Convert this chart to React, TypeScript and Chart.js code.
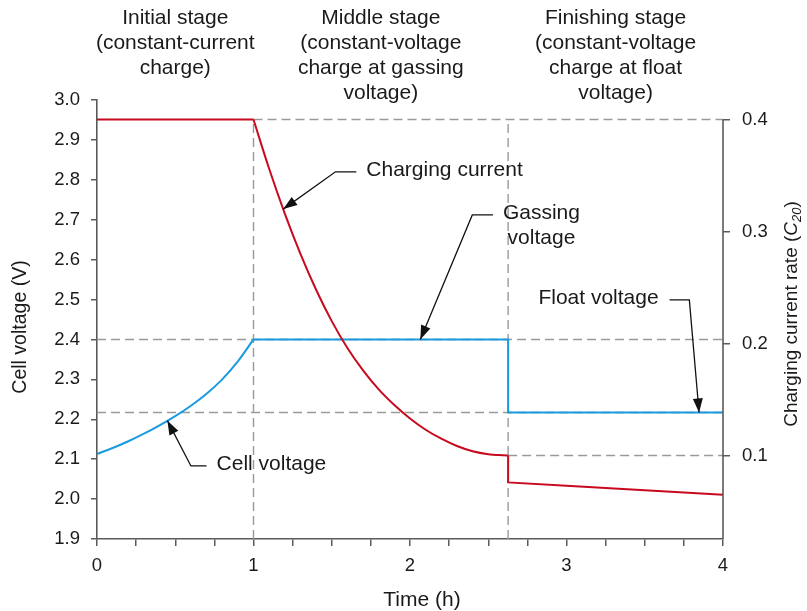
import React, { useEffect, useRef } from 'react';
import { Chart, registerables } from 'chart.js';

Chart.register(...registerables);

// ---------------- data ----------------
const STAGE_BOUNDS = [0, 1, 2.627, 4];
const STAGE_TITLES = [
  ['Initial stage', '(constant-current', 'charge)'],
  ['Middle stage', '(constant-voltage', 'charge at gassing', 'voltage)'],
  ['Finishing stage', '(constant-voltage', 'charge at float', 'voltage)'],
];

// cell voltage (V), left axis
const VOLTAGE_CC_TIME = [0, 0.1, 0.2, 0.3, 0.4, 0.5, 0.6, 0.7, 0.8, 0.9, 1.0];
const VOLTAGE_CC = [2.113, 2.128, 2.145, 2.164, 2.185, 2.208, 2.234, 2.264, 2.3, 2.345, 2.4];
const VOLTAGE_CV_TIME = [1.0, 2.627, 2.627, 4];
const VOLTAGE_CV = [2.4, 2.4, 2.217, 2.217];

// charging current rate (C20), right axis
const CURRENT_CC_TIME = [0, 1];
const CURRENT_CC = [0.4, 0.4];
const CURRENT_GAS_TIME = [1, 1.1, 1.2, 1.3, 1.4, 1.5, 1.6, 1.7, 1.8, 1.9, 2.0, 2.1, 2.2, 2.3, 2.4, 2.5, 2.6, 2.627];
const CURRENT_GAS = [0.4, 0.356, 0.316, 0.28, 0.248, 0.22, 0.196, 0.176, 0.159, 0.145, 0.133, 0.123, 0.115, 0.1085, 0.1038, 0.1012, 0.1002, 0.1];
const CURRENT_FLOAT_TIME = [2.627, 2.627, 3.0, 3.5, 4.0];
const CURRENT_FLOAT = [0.1, 0.076, 0.073, 0.069, 0.065];

const GASSING_VOLTAGE = 2.4;
const FLOAT_VOLTAGE = 2.217;
const START_RATE = 0.4;
const END_RATE = 0.1;

const X_TICKS = [0, 0.25, 0.5, 0.75, 1, 1.25, 1.5, 1.75, 2, 2.25, 2.5, 2.75, 3, 3.25, 3.5, 3.75, 4];
const X_MAJOR = [0, 1, 2, 3, 4];
const X_LABELS = ['0', '1', '2', '3', '4'];
const LEFT_TICKS = [1.9, 2.0, 2.1, 2.2, 2.3, 2.4, 2.5, 2.6, 2.7, 2.8, 2.9, 3.0];
const LEFT_LABELS = ['1.9', '2.0', '2.1', '2.2', '2.3', '2.4', '2.5', '2.6', '2.7', '2.8', '2.9', '3.0'];
const RIGHT_TICKS = [0.1, 0.2, 0.3, 0.4];
const RIGHT_LABELS = ['0.1', '0.2', '0.3', '0.4'];

// ---------------- styling ----------------
const FONT = '"Liberation Sans", Arial, sans-serif';
const RED = '#C80A1E';
const BLUE = '#1A9BE0';
const AXIS = '#5a5a5a';
const DASH = '#9a9a9a';
const TEXT = '#1a1a1a';

const LEFT_MIN = 1.9;
const LEFT_MAX = 3.0;
const RIGHT_MIN = 0.02545;
const RIGHT_MAX = 0.41741;

type Ann = {
  lines: string[];
  series: 'current' | 'voltage';
  tipTime: number;
  elbow: [number, number];
  end: [number, number];
  side: 'right' | 'left';
};

const ANNOTATIONS: Ann[] = [
  { lines: ['Charging current'], series: 'current', tipTime: 1.19, elbow: [1.524, 2.82], end: [1.657, 2.82], side: 'right' },
  { lines: ['Gassing', 'voltage'], series: 'voltage', tipTime: 2.066, elbow: [2.398, 2.712], end: [2.53, 2.712], side: 'right' },
  { lines: ['Float voltage'], series: 'voltage', tipTime: 3.847, elbow: [3.785, 2.499], end: [3.659, 2.499], side: 'left' },
  { lines: ['Cell voltage'], series: 'voltage', tipTime: 0.45, elbow: [0.6, 2.083], end: [0.7, 2.083], side: 'right' },
];

function interp(xs: number[], ys: number[], t: number) {
  for (let i = 0; i < xs.length - 1; i++) {
    if (xs[i + 1] > xs[i] && t >= xs[i] && t <= xs[i + 1]) {
      const f = (t - xs[i]) / (xs[i + 1] - xs[i]);
      return ys[i] + f * (ys[i + 1] - ys[i]);
    }
  }
  return ys[ys.length - 1];
}

function arrowHead(ctx: CanvasRenderingContext2D, fx: number, fy: number, tx: number, ty: number) {
  const a = Math.atan2(ty - fy, tx - fx);
  const L = 14;
  const W = 5;
  const c = Math.cos(a);
  const s = Math.sin(a);
  ctx.beginPath();
  ctx.moveTo(tx, ty);
  ctx.lineTo(tx - L * c + W * s, ty - L * s - W * c);
  ctx.lineTo(tx - L * c - W * s, ty - L * s + W * c);
  ctx.closePath();
  ctx.fill();
}

const ALL_CURRENT_TIME = [...CURRENT_CC_TIME, ...CURRENT_GAS_TIME, ...CURRENT_FLOAT_TIME];
const ALL_CURRENT = [...CURRENT_CC, ...CURRENT_GAS, ...CURRENT_FLOAT];
const ALL_VOLTAGE_TIME = [...VOLTAGE_CC_TIME, ...VOLTAGE_CV_TIME];
const ALL_VOLTAGE = [...VOLTAGE_CC, ...VOLTAGE_CV];

const overlayPlugin = {
  id: 'overlay',
  afterDraw(chart: any) {
    const { ctx, chartArea: ca, scales } = chart;
    const x = scales.x;
    const yl = scales.y;
    const yr = scales.y1;
    ctx.save();

    // right axis line (from top rate tick down to the x axis)
    ctx.strokeStyle = AXIS;
    ctx.lineWidth = 1.6;
    ctx.beginPath();
    ctx.moveTo(ca.right, yr.getPixelForValue(RIGHT_TICKS[RIGHT_TICKS.length - 1]));
    ctx.lineTo(ca.right, ca.bottom);
    ctx.stroke();

    ctx.fillStyle = TEXT;

    // stage titles
    ctx.font = `21px ${FONT}`;
    ctx.textAlign = 'center';
    ctx.textBaseline = 'middle';
    STAGE_TITLES.forEach((lines, i) => {
      const cx = (x.getPixelForValue(STAGE_BOUNDS[i]) + x.getPixelForValue(STAGE_BOUNDS[i + 1])) / 2;
      lines.forEach((ln, j) => ctx.fillText(ln, cx, 18 + 25 * j));
    });

    // x title
    ctx.textBaseline = 'alphabetic';
    ctx.fillText('Time (h)', (ca.left + ca.right) / 2 + 12, 606);

    // left title
    ctx.save();
    ctx.translate(26, 327);
    ctx.rotate(-Math.PI / 2);
    ctx.font = `19.5px ${FONT}`;
    ctx.textAlign = 'center';
    ctx.fillText('Cell voltage (V)', 0, 0);
    ctx.restore();

    // right title with italic C and subscript 20
    ctx.save();
    ctx.translate(797, 314);
    ctx.rotate(-Math.PI / 2);
    ctx.textAlign = 'left';
    const parts = [
      { t: 'Charging current rate (', f: `19px ${FONT}`, dy: 0 },
      { t: 'C', f: `italic 19px ${FONT}`, dy: 0 },
      { t: '20', f: `italic 13px ${FONT}`, dy: 4 },
      { t: ')', f: `19px ${FONT}`, dy: 0 },
    ];
    let total = 0;
    parts.forEach((p) => {
      ctx.font = p.f;
      total += ctx.measureText(p.t).width;
    });
    let px = -total / 2;
    parts.forEach((p) => {
      ctx.font = p.f;
      ctx.fillText(p.t, px, p.dy);
      px += ctx.measureText(p.t).width;
    });
    ctx.restore();

    // annotations
    ctx.font = `21px ${FONT}`;
    ctx.lineWidth = 1.3;
    ANNOTATIONS.forEach((a) => {
      const tipX = x.getPixelForValue(a.tipTime);
      const tipY =
        a.series === 'current'
          ? yr.getPixelForValue(interp(ALL_CURRENT_TIME, ALL_CURRENT, a.tipTime))
          : yl.getPixelForValue(interp(ALL_VOLTAGE_TIME, ALL_VOLTAGE, a.tipTime));
      const ex = x.getPixelForValue(a.elbow[0]);
      const ey = yl.getPixelForValue(a.elbow[1]);
      const lx = x.getPixelForValue(a.end[0]);
      const ly = yl.getPixelForValue(a.end[1]);
      ctx.strokeStyle = '#111';
      ctx.fillStyle = '#111';
      ctx.beginPath();
      ctx.moveTo(lx, ly);
      ctx.lineTo(ex, ey);
      ctx.lineTo(tipX, tipY);
      ctx.stroke();
      arrowHead(ctx, ex, ey, tipX, tipY);

      ctx.fillStyle = TEXT;
      ctx.textBaseline = 'middle';
      if (a.side === 'right') {
        const widths = a.lines.map((l) => ctx.measureText(l).width);
        const maxW = Math.max(...widths);
        const cx = lx + 10 + maxW / 2;
        ctx.textAlign = 'center';
        a.lines.forEach((l, j) => ctx.fillText(l, cx, ly - 1.5 + 25 * j));
      } else {
        ctx.textAlign = 'right';
        a.lines.forEach((l, j) => ctx.fillText(l, lx - 11, ly - 2 + 25 * j));
      }
    });

    ctx.restore();
  },
};

export default function App() {
  const ref = useRef<HTMLCanvasElement>(null);

  useEffect(() => {
    const canvas = ref.current;
    if (!canvas) return;
    const pts = (xs: number[], ys: number[]) => xs.map((v, i) => ({ x: v, y: ys[i] }));
    const solid = (data: { x: number; y: number }[], axis: string, color: string, smooth: boolean) => ({
      data,
      yAxisID: axis,
      borderColor: color,
      borderWidth: 2,
      pointRadius: 0,
      tension: 0,
      cubicInterpolationMode: smooth ? 'monotone' : 'default',
      fill: false,
    });
    const dashed = (data: { x: number; y: number }[], axis: string) => ({
      data,
      yAxisID: axis,
      borderColor: DASH,
      borderWidth: 1.4,
      borderDash: [9, 5],
      pointRadius: 0,
      tension: 0,
      fill: false,
    });
    const s1 = STAGE_BOUNDS[1];
    const s2 = STAGE_BOUNDS[2];
    const tEnd = STAGE_BOUNDS[3];

    const chart = new Chart(canvas, {
      type: 'line',
      data: {
        datasets: [
          solid(pts(CURRENT_CC_TIME, CURRENT_CC), 'y1', RED, false),
          solid(pts(CURRENT_GAS_TIME, CURRENT_GAS), 'y1', RED, true),
          solid(pts(CURRENT_FLOAT_TIME, CURRENT_FLOAT), 'y1', RED, false),
          solid(pts(VOLTAGE_CC_TIME, VOLTAGE_CC), 'y', BLUE, true),
          solid(pts(VOLTAGE_CV_TIME, VOLTAGE_CV), 'y', BLUE, false),
          dashed([{ x: s1, y: RIGHT_MIN }, { x: s1, y: START_RATE }], 'y1'),
          dashed([{ x: s2, y: RIGHT_MIN }, { x: s2, y: START_RATE }], 'y1'),
          dashed([{ x: s1, y: START_RATE }, { x: tEnd, y: START_RATE }], 'y1'),
          dashed([{ x: s2, y: END_RATE }, { x: tEnd, y: END_RATE }], 'y1'),
          dashed([{ x: 0, y: GASSING_VOLTAGE }, { x: tEnd, y: GASSING_VOLTAGE }], 'y'),
          dashed([{ x: 0, y: FLOAT_VOLTAGE }, { x: tEnd, y: FLOAT_VOLTAGE }], 'y'),
        ] as any,
      },
      options: {
        responsive: false,
        animation: false,
        layout: { padding: { top: 100, left: 0, right: 0, bottom: 0 } },
        plugins: { legend: { display: false }, tooltip: { enabled: false } },
        scales: {
          x: {
            type: 'linear',
            min: 0,
            max: 4,
            afterBuildTicks: (s: any) => {
              s.ticks = X_TICKS.map((v) => ({ value: v }));
            },
            afterFit: (s: any) => {
              s.height = 72;
            },
            grid: { drawOnChartArea: false, drawTicks: true, tickLength: 7, color: AXIS, lineWidth: 1.5 },
            border: { display: true, color: AXIS, width: 1.6 },
            ticks: {
              autoSkip: false,
              maxRotation: 0,
              padding: 9,
              color: TEXT,
              font: { family: FONT, size: 18.5 },
              callback: (v: any) => {
                const i = X_MAJOR.findIndex((m) => Math.abs(m - Number(v)) < 1e-9);
                return i >= 0 ? X_LABELS[i] : '';
              },
            },
          },
          y: {
            type: 'linear',
            position: 'left',
            min: LEFT_MIN,
            max: LEFT_MAX,
            afterBuildTicks: (s: any) => {
              s.ticks = LEFT_TICKS.map((v) => ({ value: v }));
            },
            afterFit: (s: any) => {
              s.width = 97;
            },
            grid: { drawOnChartArea: false, drawTicks: true, tickLength: 6, color: AXIS, lineWidth: 1.5 },
            border: { display: true, color: AXIS, width: 1.6 },
            ticks: {
              padding: 11,
              color: TEXT,
              font: { family: FONT, size: 18.5 },
              callback: (v: any) => {
                const i = LEFT_TICKS.findIndex((m) => Math.abs(m - Number(v)) < 1e-9);
                return i >= 0 ? LEFT_LABELS[i] : '';
              },
            },
          },
          y1: {
            type: 'linear',
            position: 'right',
            min: RIGHT_MIN,
            max: RIGHT_MAX,
            afterBuildTicks: (s: any) => {
              s.ticks = RIGHT_TICKS.map((v) => ({ value: v }));
            },
            afterFit: (s: any) => {
              s.width = 84;
            },
            grid: { drawOnChartArea: false, drawTicks: true, tickLength: 7, color: AXIS, lineWidth: 1.5 },
            border: { display: false },
            ticks: {
              padding: 12,
              color: TEXT,
              font: { family: FONT, size: 18.5 },
              callback: (v: any) => {
                const i = RIGHT_TICKS.findIndex((m) => Math.abs(m - Number(v)) < 1e-9);
                return i >= 0 ? RIGHT_LABELS[i] : '';
              },
            },
          },
        },
      } as any,
      plugins: [overlayPlugin],
    });
    return () => chart.destroy();
  }, []);

  return (
    <div style={{ position: 'absolute', left: 0, top: 0, width: 807, height: 611, background: '#fff' }}>
      <canvas ref={ref} width={807} height={611} style={{ display: 'block', width: 807, height: 611 }} />
    </div>
  );
}
